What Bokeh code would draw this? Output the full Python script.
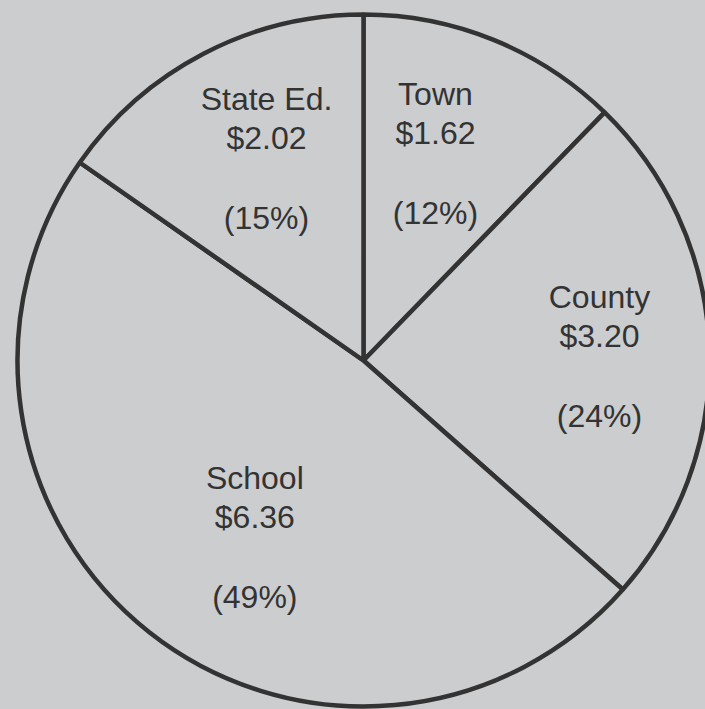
import math
from bokeh.plotting import figure
from bokeh.models import ColumnDataSource, Range1d, GlobalInlineStyleSheet
from bokeh.core.properties import value
from bokeh.embed import file_html
from bokeh.resources import INLINE

# ---- data ----
categories = ["Town", "County", "School", "State Ed."]
amounts = [1.62, 3.20, 6.36, 2.02]
amount_labels = ["$1.62", "$3.20", "$6.36", "$2.02"]
pct_labels = ["(12%)", "(24%)", "(49%)", "(15%)"]

# ---- layout / style ----
BG = "#cbcdcf"
INK = "#333333"
W, H = 705, 709
CX, CY, R = 363, 709 - 360, 346          # pie centre / radius in plot units (px)
label_nudge_deg = [-3.0, 1.2, -6.5, 2.0]  # label offsets from mid-angle
label_rfrac = [0.636, 0.682, 0.598, 0.650]
line_offsets = [59, 20, -60]             # name / amount / percent relative to block centre

total = sum(amounts)
cum = [0.0]
for a in amounts:
    cum.append(cum[-1] + a / total * 360.0)   # clockwise degrees from top

starts, ends = [], []
for i in range(len(amounts)):
    starts.append(math.radians(90 - cum[i + 1]))
    ends.append(math.radians(90 - cum[i]))

src = ColumnDataSource(dict(cat=categories, start=starts, end=ends,
                            x=[CX] * 4, y=[CY] * 4))

p = figure(width=W, height=H, output_backend="svg", toolbar_location=None,
           x_range=Range1d(0, W), y_range=Range1d(709 - H, 709),
           min_border=0, background_fill_color=BG, border_fill_color=BG,
           outline_line_color=None)
p.axis.visible = False
p.grid.visible = False
p.stylesheets = [GlobalInlineStyleSheet(
    css=f"body {{ background-color: {BG}; margin: 0; overflow: hidden; }}")]

p.wedge(x="x", y="y", radius=R, start_angle="start", end_angle="end",
        source=src, fill_color=BG, line_color=INK, line_width=4.5,
        radius_units="data")

tx, ty, tt = [], [], []
for i in range(len(amounts)):
    mid = (cum[i] + cum[i + 1]) / 2 + label_nudge_deg[i]
    rr = R * label_rfrac[i]
    bx = CX + rr * math.sin(math.radians(mid))
    by = CY + rr * math.cos(math.radians(mid))
    for off, t in zip(line_offsets, [categories[i], amount_labels[i], pct_labels[i]]):
        tx.append(bx)
        ty.append(by + off)
        tt.append(t)

p.text(x=tx, y=ty, text=tt, text_align="center", text_baseline="middle",
       text_font=value("Liberation Sans"), text_font_size="32px", text_color=INK)

open("out.html", "w").write(file_html(p, INLINE))
